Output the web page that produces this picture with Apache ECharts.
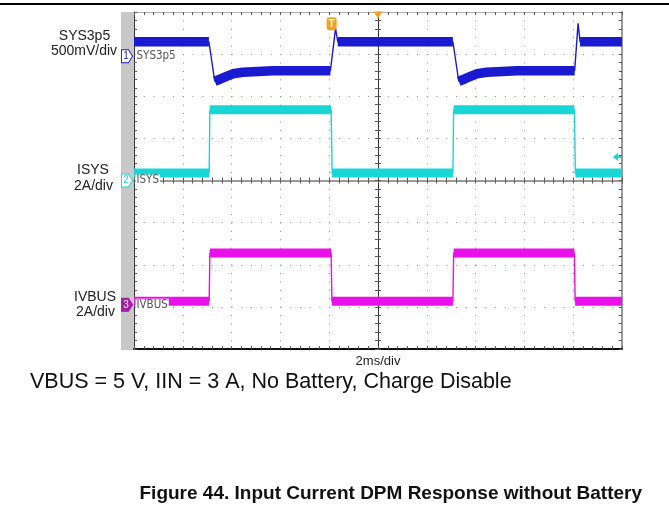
<!DOCTYPE html>
<html><head><meta charset="utf-8">
<script src="https://cdn.jsdelivr.net/npm/echarts@6/dist/echarts.min.js"></script>
<style>html,body{margin:0;padding:0;background:#fff;}#c{width:669px;height:518px;}</style>
</head><body><div id="c"></div>
<script>
// ---- data (time in ms, 2 ms/div, trigger at 0) ----
// Channel 1: SYS3p5, volts relative to channel marker (500 mV/div)
const sysTime  = [-10, -6.93, -6.69, -6.45, -6.21, -5.95, -5.54, -4.31, -1.95, -1.74, -1.65, 3.07, 3.31, 3.55, 3.79, 4.05, 4.46, 5.69, 8.06, 8.20, 8.28, 10];
const sysVolts = [0.172, 0.172, -0.297, -0.27, -0.24, -0.208, -0.19, -0.172, -0.172, 0.33, 0.172, 0.172, -0.297, -0.27, -0.24, -0.208, -0.19, -0.172, -0.172, 0.39, 0.172, 0.172];
// Channel 2: ISYS, amps relative to channel marker (2 A/div)
const isysTime = [-10, -6.92, -6.89, -1.92, -1.88, 3.07, 3.10, 8.05, 8.09, 10];
const isysAmps = [0.36, 0.36, 3.36, 3.36, 0.36, 0.36, 3.36, 3.36, 0.36, 0.36];
// Channel 3: IVBUS, amps relative to channel marker (2 A/div)
const ivbusTime = [-10, -6.92, -6.89, -1.92, -1.89, 3.07, 3.10, 8.05, 8.08, 10];
const ivbusAmps = [0.17, 0.17, 2.46, 2.46, 0.17, 0.17, 2.46, 2.46, 0.17, 0.17];
// channel names, scales and marker positions (divisions from screen centre)
const chNames  = ['SYS3p5', 'ISYS', 'IVBUS'];
const chScales = ['500mV/div', '2A/div', '2A/div'];
const chPerDiv = [0.5, 2, 2];
const chRefDiv = [2.95, 0, -2.95];
const chColors = ['#1a1ad0', '#18d6d6', '#ea10ea'];
const timeLabel = '2ms/div';
const caption = 'VBUS = 5 V, IIN = 3 A, No Battery, Charge Disable';
const figTitle = 'Figure 44. Input Current DPM Response without Battery';

const chart = echarts.init(document.getElementById('c'));
function toDiv(times, vals, ch){ return times.map((t,i)=>[t, chRefDiv[ch] + vals[i]/chPerDiv[ch]]); }
function band(pts){
  const out=[];
  for(let i=0;i<pts.length;i++){
    out.push(pts[i]);
    if(i<pts.length-1){
      const s=Math.abs((pts[i+1][1]-pts[i][1])/(pts[i+1][0]-pts[i][0]));
      if(s>2) out.push([pts[i][0],'-']);
    }
  }
  return out;
}
const traces=[toDiv(sysTime,sysVolts,0),toDiv(isysTime,isysAmps,1),toDiv(ivbusTime,ivbusAmps,2)];
const series=[];
traces.forEach((pts,ch)=>{
  series.push({type:'line',xAxisIndex:0,yAxisIndex:0,data:band(pts),showSymbol:false,symbol:'none',
    lineStyle:{color:chColors[ch],width:ch===0?9.5:9,cap:'butt',join:'round'},z:2,silent:true});
  series.push({type:'line',xAxisIndex:0,yAxisIndex:0,data:pts,showSymbol:false,symbol:'none',
    lineStyle:{color:chColors[ch],width:1.4},z:3,silent:true});
});
const marker='path://M0,0L7,0L11,6.5L7,13L0,13Z';
const mp=[];
chNames.forEach((n,ch)=>{
  mp.push({coord:[-10,chRefDiv[ch]],symbol:marker,symbolSize:[11,13],symbolOffset:[-7,0],
    itemStyle:{color:ch===2?'#a81aa8':'#fff',borderColor:ch===2?'#a81aa8':chColors[ch],borderWidth:1},
    label:{show:true,position:'inside',formatter:String(ch+1),color:ch===2?'#fff':chColors[ch],fontSize:10,offset:[-1,0]}});
  mp.push({coord:[-10,chRefDiv[ch]],symbol:'rect',symbolSize:[1,1],itemStyle:{color:'rgba(0,0,0,0)'},
    label:{show:true,position:'right',distance:1,formatter:n,color:'#555',fontSize:11.5,
      fontFamily:'"Liberation Sans Narrow","Arial Narrow","DejaVu Sans Condensed",sans-serif',backgroundColor:'#fff',padding:[0,1]}});
});
// trigger marks
mp.push({coord:[-1.9,3.72],symbol:'roundRect',symbolSize:[10,13],itemStyle:{color:'#f5a020'},
  label:{show:true,position:'inside',formatter:'T',color:'#fff',fontSize:10,fontWeight:'bold'}});
mp.push({coord:[0,4],symbol:'triangle',symbolRotate:180,symbolSize:[9,7],symbolOffset:[0,3],itemStyle:{color:'#f5a020'},label:{show:false}});
mp.push({coord:[9.79,chRefDiv[1]+1.12/chPerDiv[1]],symbol:'path://M0,4L5,0L5,3L8,3L8,5L5,5L5,8Z',symbolSize:[8,8],itemStyle:{color:chColors[1]},label:{show:false}});
series.push({type:'line',xAxisIndex:0,yAxisIndex:0,data:[],markPoint:{silent:true,animation:false,data:mp},z:6});

const dotCol='#8a8a8a', tickCol='#555';
function xa(grid,pos,opt){return Object.assign({type:'value',gridIndex:grid,position:pos,min:-10,max:10,interval:2,
  axisLabel:{show:false},splitLine:{show:false},
  axisTick:{show:true,inside:true,length:3,lineStyle:{color:tickCol}},
  minorTick:{show:true,splitNumber:5,length:3,lineStyle:{color:tickCol}}},opt);}
function ya(grid,pos,opt){return Object.assign({type:'value',gridIndex:grid,position:pos,min:-4,max:4,interval:1,
  axisLabel:{show:false},splitLine:{show:false},
  axisTick:{show:true,inside:true,length:3,lineStyle:{color:tickCol}},
  minorTick:{show:true,splitNumber:5,length:3,lineStyle:{color:tickCol}}},opt);}
const g={left:134,top:12,width:488,height:337};
chart.setOption({
  animation:false,
  grid:[Object.assign({},g),Object.assign({},g),Object.assign({},g)],
  xAxis:[
    xa(0,'bottom',{axisLine:{onZero:false,lineStyle:{color:'#111',width:2}},
      splitLine:{show:true,lineStyle:{color:dotCol,width:1,type:[1,7.42]}}}),
    xa(0,'top',{axisLine:{onZero:false,lineStyle:{color:'#b0b0b0',width:1}}}),
    xa(1,'bottom',{axisLine:{onZero:true,lineStyle:{color:'#9a9a9a',width:2}}}),
    xa(2,'bottom',{axisLine:{onZero:true,lineStyle:{color:'#9a9a9a',width:2}},axisTick:{show:true,inside:false,length:3,lineStyle:{color:tickCol}},minorTick:{show:true,splitNumber:5,length:3,lineStyle:{color:tickCol}}})
  ],
  yAxis:[
    ya(0,'left',{axisLine:{onZero:false,lineStyle:{color:'#333',width:1}},
      splitLine:{show:true,lineStyle:{color:dotCol,width:1,type:[1,8.76]}}}),
    ya(0,'right',{axisLine:{onZero:false,lineStyle:{color:'#999',width:2}}}),
    ya(1,'left',{axisLine:{onZero:true,lineStyle:{color:'#333',width:1}}}),
    ya(2,'left',{axisLine:{onZero:true,lineStyle:{color:'#333',width:1}},axisTick:{show:true,inside:false,length:3,lineStyle:{color:tickCol}},minorTick:{show:true,splitNumber:5,length:3,lineStyle:{color:tickCol}}})
  ],
  series:series,
  graphic:[
    {type:'rect',shape:{x:0,y:3,width:669,height:2},style:{fill:'#000'},z:-1},
    {type:'rect',shape:{x:121,y:12,width:13,height:338},style:{fill:'#c8c8c8'},z:-1},
    {type:'text',style:{text:chNames[0],x:84.5,y:36,textAlign:'center',textVerticalAlign:'middle',font:'14px "Liberation Sans",Arial,sans-serif',fill:'#222'}},
    {type:'text',style:{text:chScales[0],x:84,y:51,textAlign:'center',textVerticalAlign:'middle',font:'14px "Liberation Sans",Arial,sans-serif',fill:'#222'}},
    {type:'text',style:{text:chNames[1],x:93,y:170,textAlign:'center',textVerticalAlign:'middle',font:'14px "Liberation Sans",Arial,sans-serif',fill:'#222'}},
    {type:'text',style:{text:chScales[1],x:93.5,y:185.7,textAlign:'center',textVerticalAlign:'middle',font:'14px "Liberation Sans",Arial,sans-serif',fill:'#222'}},
    {type:'text',style:{text:chNames[2],x:95,y:296.7,textAlign:'center',textVerticalAlign:'middle',font:'14px "Liberation Sans",Arial,sans-serif',fill:'#222'}},
    {type:'text',style:{text:chScales[2],x:95.5,y:311.7,textAlign:'center',textVerticalAlign:'middle',font:'14px "Liberation Sans",Arial,sans-serif',fill:'#222'}},
    {type:'text',style:{text:timeLabel,x:378,y:361,textAlign:'center',textVerticalAlign:'middle',font:'13px "Liberation Sans",Arial,sans-serif',fill:'#222'}},
    {type:'text',style:{text:caption,x:30,y:382,textAlign:'left',textVerticalAlign:'middle',font:'21.5px "Liberation Sans",Arial,sans-serif',fill:'#111'}},
    {type:'text',style:{text:figTitle,x:642,y:494,textAlign:'right',textVerticalAlign:'middle',font:'bold 19px "Liberation Sans",Arial,sans-serif',fill:'#111'}}
  ]
});
</script></body></html>
